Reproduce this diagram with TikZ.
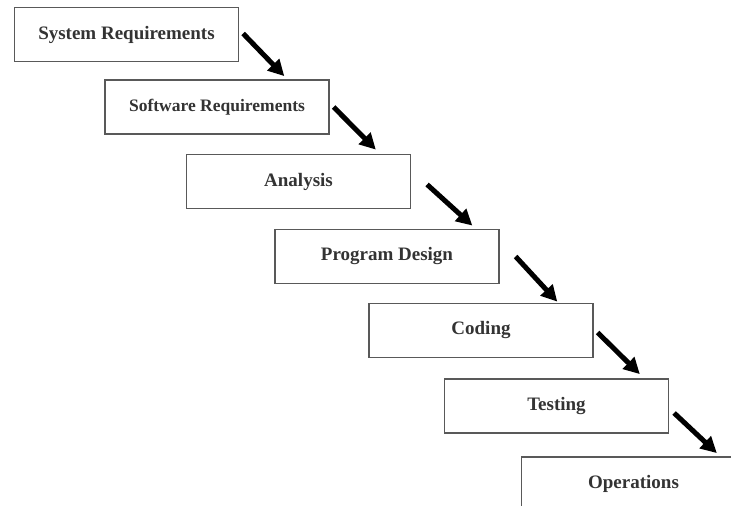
\documentclass[tikz,border=0pt]{standalone}
\usepackage{fontspec}
\setmainfont{Liberation Serif}
\usetikzlibrary{arrows.meta,calc}

\tikzset{
  phase/.style={draw=black!65, line width=1.2pt, fill=white,
    minimum width=224pt, minimum height=54pt, inner sep=0pt,
    text=black!80, font=\fontsize{19}{21}\selectfont\bfseries},
  flow/.style={line width=5pt, draw=black,
    -{Triangle[length=16pt,width=16pt]}, shorten >=-1pt}
}

\begin{document}
\begin{tikzpicture}[x=1pt,y=-1pt]
  \useasboundingbox (0,0) rectangle (731,506);
  \clip (0,0) rectangle (731,506);

  % waterfall phases
  \node[phase] (sys)  at (126.5,34.5) {System Requirements};
  \node[phase, font=\fontsize{17.5}{20}\selectfont\bfseries]
               (soft) at (217,107)    {Software Requirements};
  \node[phase] (ana)  at (298.5,181.5) {Analysis};
  \node[phase] (pd)   at (387,256.5)   {Program Design};
  \node[phase] (cod)  at (481,330.5)   {Coding};
  \node[phase] (tst)  at (556.5,406)   {Testing};
  \node[phase] (ops)  at (633.5,484)   {Operations};

  % step-down arrows between consecutive phases
  \draw[flow] ($(sys.east)+(4,-1)$)  -- ($(soft.north east)+(-46,-4)$);
  \draw[flow] ($(soft.east)+(4,0)$)  -- ($(ana.north east)+(-36,-5)$);
  \draw[flow] ($(ana.east)+(16,3)$)  -- ($(pd.north east)+(-28,-4)$);
  \draw[flow] ($(pd.east)+(16,0)$)   -- ($(cod.north east)+(-37,-2)$);
  \draw[flow] ($(cod.east)+(4,2)$)   -- ($(tst.north east)+(-30,-5)$);
  \draw[flow] ($(tst.east)+(5,7)$)   -- ($(ops.north east)+(-30,-4)$);
\end{tikzpicture}
\end{document}
